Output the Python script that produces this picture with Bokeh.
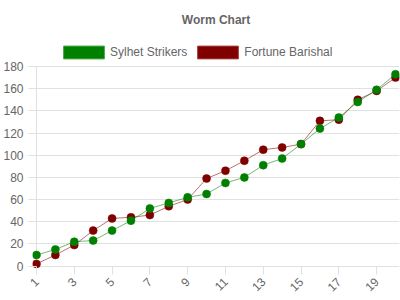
import math
from bokeh.plotting import figure
from bokeh.models import Range1d, FixedTicker, Legend, LegendItem, ColumnDataSource
from bokeh.embed import file_html
from bokeh.resources import INLINE

chart_title = "Worm Chart"
overs = list(range(1, 21))
sylhet_runs = [10, 15, 22, 23, 32, 41, 52, 57, 62, 65, 75, 80, 91, 97, 110, 124, 134, 148, 159, 173]
barishal_runs = [2, 10, 19, 32, 43, 44, 46, 54, 60, 79, 86, 95, 105, 107, 110, 131, 132, 150, 158, 170]
team_names = ["Sylhet Strikers", "Fortune Barishal"]
x_ticks = [1, 3, 5, 7, 9, 11, 13, 15, 17, 19]
y_ticks = [0, 20, 40, 60, 80, 100, 120, 140, 160, 180]

GREEN = "#008000"
RED = "#800000"
GRID = "#e1e1e1"
TEXT = "#666666"
FONT = "Liberation Sans"

# frame: left 31 .. right 399, top 36 .. bottom 270 (legend lives in the top strip)
xpad = 4 / (360 / 19)
ppu = 199.6 / 180.0
y_lo = y_ticks[0] - 4.4 / ppu
y_hi = y_ticks[-1] + 30 / ppu
p = figure(width=400, height=300,
           x_range=Range1d(overs[0] - xpad, overs[-1] + xpad), y_range=Range1d(y_lo, y_hi),
           output_backend="svg", toolbar_location=None,
           min_border_left=31, min_border_right=1, min_border_top=36, min_border_bottom=30,
           title=chart_title)
p.outline_line_color = None
p.background_fill_color = "white"

p.title.text_font_size = "12px"
p.title.text_font = FONT
p.title.text_font_style = "bold"
p.title.text_color = TEXT
p.title.align = "center"
p.title.vertical_align = "middle"
p.title.standoff = 18

src = ColumnDataSource(dict(over=overs, s=sylhet_runs, b=barishal_runs))

# y axis line at the first over, from the bottom of the frame up to the top tick
p.segment(x0=[overs[0]], y0=[y_lo], x1=[overs[0]], y1=[y_ticks[-1]], line_color=GRID, line_width=1)

p.line("over", "b", source=src, line_color=RED, line_alpha=0.55, line_width=1)
p.scatter("over", "b", source=src, size=8, fill_color=RED, line_color=RED, line_alpha=0.5, line_width=1)
p.line("over", "s", source=src, line_color=GREEN, line_alpha=0.55, line_width=1)
p.scatter("over", "s", source=src, size=8, fill_color=GREEN, line_color=GREEN, line_alpha=0.5, line_width=1)

# legend swatches (hidden renderers, shown only in legend)
rg = p.rect("over", "s", source=src, width=1, height=1, fill_color=GREEN, line_color="#44a844", line_width=1, visible=False)
rr = p.rect("over", "b", source=src, width=1, height=1, fill_color=RED, line_color="#a84444", line_width=1, visible=False)
legend = Legend(items=[LegendItem(label=team_names[0], renderers=[rg]),
                       LegendItem(label=team_names[1], renderers=[rr])],
                orientation="horizontal", location=(26, 210),
                label_text_font_size="12px", label_text_color=TEXT, label_text_font=FONT,
                glyph_width=51, glyph_height=16, label_standoff=1, spacing=5,
                padding=0, margin=0, border_line_color=None, background_fill_alpha=0)
p.add_layout(legend)

# axes
xa = p.xaxis[0]
xa.ticker = FixedTicker(ticks=x_ticks)
xa.axis_line_color = None
xa.major_tick_line_color = GRID
xa.major_tick_in = 4
xa.major_tick_out = 4
xa.minor_tick_line_color = None
xa.major_label_orientation = math.pi / 4
xa.major_label_text_font_size = "12px"
xa.major_label_text_color = TEXT
xa.major_label_text_font = FONT

ya = p.yaxis[0]
ya.ticker = FixedTicker(ticks=y_ticks)
ya.axis_line_color = None
ya.major_tick_line_color = GRID
ya.major_tick_in = 4
ya.major_tick_out = 4
ya.minor_tick_line_color = None
ya.major_label_text_font_size = "12px"
ya.major_label_text_color = TEXT
ya.major_label_text_font = FONT
ya.major_label_standoff = 5

p.xgrid.visible = False
p.ygrid.ticker = FixedTicker(ticks=y_ticks)
p.ygrid.grid_line_color = GRID

open("out.html", "w").write(file_html(p, INLINE))
